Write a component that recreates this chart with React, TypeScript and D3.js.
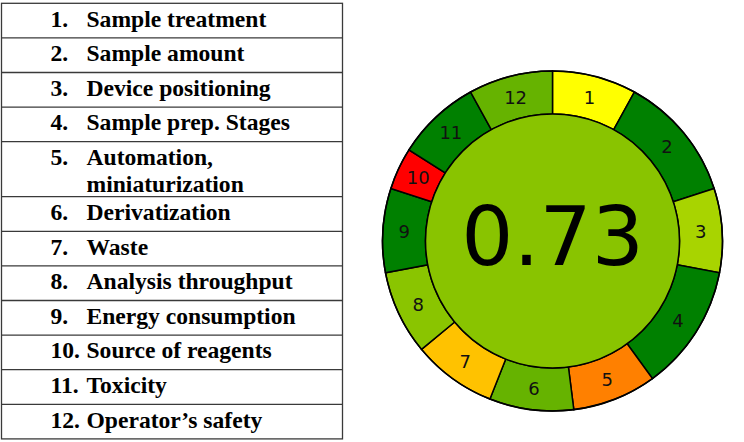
import * as d3 from 'd3';

// AGREEprep criteria, weights and scores
const criteria: string[] = [
  'Sample treatment',
  'Sample amount',
  'Device positioning',
  'Sample prep. Stages',
  'Automation,|miniaturization',
  'Derivatization',
  'Waste',
  'Analysis throughput',
  'Energy consumption',
  'Source of reagents',
  'Toxicity',
  'Operator’s safety',
];
const weights: number[] = [2, 3, 2, 3, 2, 2, 2, 2, 2, 1, 2, 2];
const scores: number[] = [0.5, 1, 0.67, 1, 0.25, 0.8, 0.38, 0.73, 1, 0, 1, 0.8];

const W = 744;
const H = 442;

export default function App() {
  // ring geometry
  const cx = 552.5;
  const cy = 241;
  const rOuter = 170;
  const rInner = 127;

  const color = d3
    .scaleLinear<string>()
    .domain([0, 0.5, 1])
    .range(['#ff0000', '#ffff00', '#008000']);

  const total = d3.sum(weights.map((w, i) => w * scores[i])) / d3.sum(weights);

  const pie = d3
    .pie<number>()
    .sort(null)
    .value((d) => d)
    .startAngle(0)
    .endAngle(2 * Math.PI);
  const slices = pie(weights);

  const arc = d3
    .arc<d3.PieArcDatum<number>>()
    .innerRadius(rInner)
    .outerRadius(rOuter);

  // table rows
  const tableX0 = 1.5;
  const tableX1 = 342.5;
  const tableTop = 3.3;
  const singleRow = 34.6;
  const lineGap = 27;
  const rows = criteria.map((c) => c.split('|'));
  const heights = rows.map((r) => (r.length > 1 ? 55 : singleRow));
  const tops: number[] = [];
  heights.reduce((acc, h) => {
    tops.push(acc);
    return acc + h;
  }, tableTop);
  const tableBottom = tops[tops.length - 1] + heights[heights.length - 1];

  const serif = '"Liberation Serif", "Times New Roman", serif';
  const sans = '"DejaVu Sans", sans-serif';

  return (
    <svg
      width={W}
      height={H}
      style={{ position: 'absolute', left: 0, top: 0, background: '#fff' }}
    >
      {/* criteria table */}
      <g>
        <rect
          x={tableX0}
          y={tableTop}
          width={tableX1 - tableX0}
          height={tableBottom - tableTop}
          fill="none"
          stroke="#3a3a3a"
          strokeWidth={1.3}
        />
        {tops.slice(1).map((y, i) => (
          <line
            key={'l' + i}
            x1={tableX0}
            x2={tableX1}
            y1={y}
            y2={y}
            stroke="#3a3a3a"
            strokeWidth={1.3}
          />
        ))}
        {rows.map((lines, i) => (
          <g key={'r' + i} fontFamily={serif} fontWeight="bold" fontSize={23.6} fill="#000">
            <text x={50.5} y={tops[i] + 23.2}>
              {`${i + 1}.`}
            </text>
            {lines.map((t, j) => (
              <text key={j} x={86.5} y={tops[i] + 23.2 + j * lineGap}>
                {t}
              </text>
            ))}
          </g>
        ))}
      </g>

      {/* pictogram */}
      <g transform={`translate(${cx},${cy})`}>
        {slices.map((s, i) => (
          <path
            key={'s' + i}
            d={arc(s) || ''}
            fill={color(scores[i])}
            stroke="#000"
            strokeWidth={1.5}
          />
        ))}
        <circle r={rOuter} fill="none" stroke="#000" strokeWidth={1.5} />
        <circle r={rInner} fill={color(total)} stroke="#000" strokeWidth={1.5} />
        {slices.map((s, i) => {
          const [x, y] = arc.centroid(s);
          return (
            <text
              key={'t' + i}
              x={x}
              y={y}
              textAnchor="middle"
              dominantBaseline="central"
              fontFamily={sans}
              fontSize={18}
              fill="#111"
            >
              {i + 1}
            </text>
          );
        })}
        <text
          x={0}
          y={24}
          textAnchor="middle"
          fontFamily={sans}
          fontSize={82}
          fill="#000"
        >
          {d3.format('.2f')(total)}
        </text>
      </g>
    </svg>
  );
}
